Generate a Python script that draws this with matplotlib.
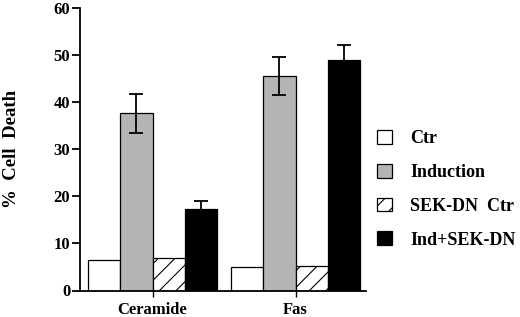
import matplotlib
matplotlib.use("Agg")
import matplotlib.pyplot as plt
import numpy as np
from matplotlib.patches import Patch

categories = ["Ceramide", "Fas"]
series = ["Ctr", "Induction", "SEK-DN  Ctr", "Ind+SEK-DN"]
ctr = [6.4, 5.0]
induction = [37.6, 45.6]
sek_ctr = [6.85, 5.1]
ind_sek = [17.3, 48.9]
induction_err = [4.2, 4.0]
ind_sek_err = [1.8, 3.3]

plt.rcParams['font.family'] = ['Liberation Serif', 'DejaVu Serif']
plt.rcParams['font.weight'] = 'bold'
plt.rcParams['hatch.linewidth'] = 0.8

fig = plt.figure(figsize=(5.2, 3.17), dpi=100)
ax = fig.add_axes([80/520, 1-290.5/317, (366-80)/520, (290.5-8)/317])

x = np.arange(len(categories))
w = 0.224
offs = [-1.5*w, -0.5*w, 0.5*w, 1.5*w]
styles = [dict(color='white', hatch=None), dict(color='#b4b4b4', hatch=None),
          dict(color='white', hatch='//'), dict(color='black', hatch=None)]
data = [ctr, induction, sek_ctr, ind_sek]
errs = [None, induction_err, None, ind_sek_err]
for d, e, o, s in zip(data, errs, offs, styles):
    ax.bar(x + o, d, w, color=s['color'], edgecolor='black', linewidth=0.9,
           hatch=s['hatch'], zorder=2)
    if e is not None:
        ax.errorbar(x + o, d, yerr=e, fmt='none', ecolor='black',
                    elinewidth=1.3, capsize=5, capthick=1.3, zorder=3)

ax.set_ylim(0, 60)
ax.set_xlim(-72.5/143, (366-152.5)/143)
ax.set_yticks(range(0, 61, 10))
ax.set_xticks(x)
ax.set_xticklabels(categories)
ax.spines['top'].set_visible(False)
ax.spines['right'].set_visible(False)
ax.spines['left'].set_linewidth(1.3)
ax.spines['bottom'].set_linewidth(1.3)
ax.tick_params(axis='y', direction='out', length=6, width=1.3, labelsize=12, pad=1)
ax.tick_params(axis='x', direction='out', length=4, width=1.0, labelsize=12, pad=4)
ax.set_ylabel("%  Cell  Death", fontsize=13.5, fontweight='bold', labelpad=24)

handles = [Patch(facecolor=s['color'], edgecolor='black', hatch=s['hatch'], linewidth=0.9)
           for s in styles]
fig.legend(handles, series, loc='upper left', bbox_to_anchor=(377/520, 1-130/317),
           frameon=False, fontsize=13, handlelength=0.83, handleheight=0.8,
           labelspacing=0.92, handletextpad=1.0, borderaxespad=0, borderpad=0)

fig.savefig("out.png", dpi=100)
